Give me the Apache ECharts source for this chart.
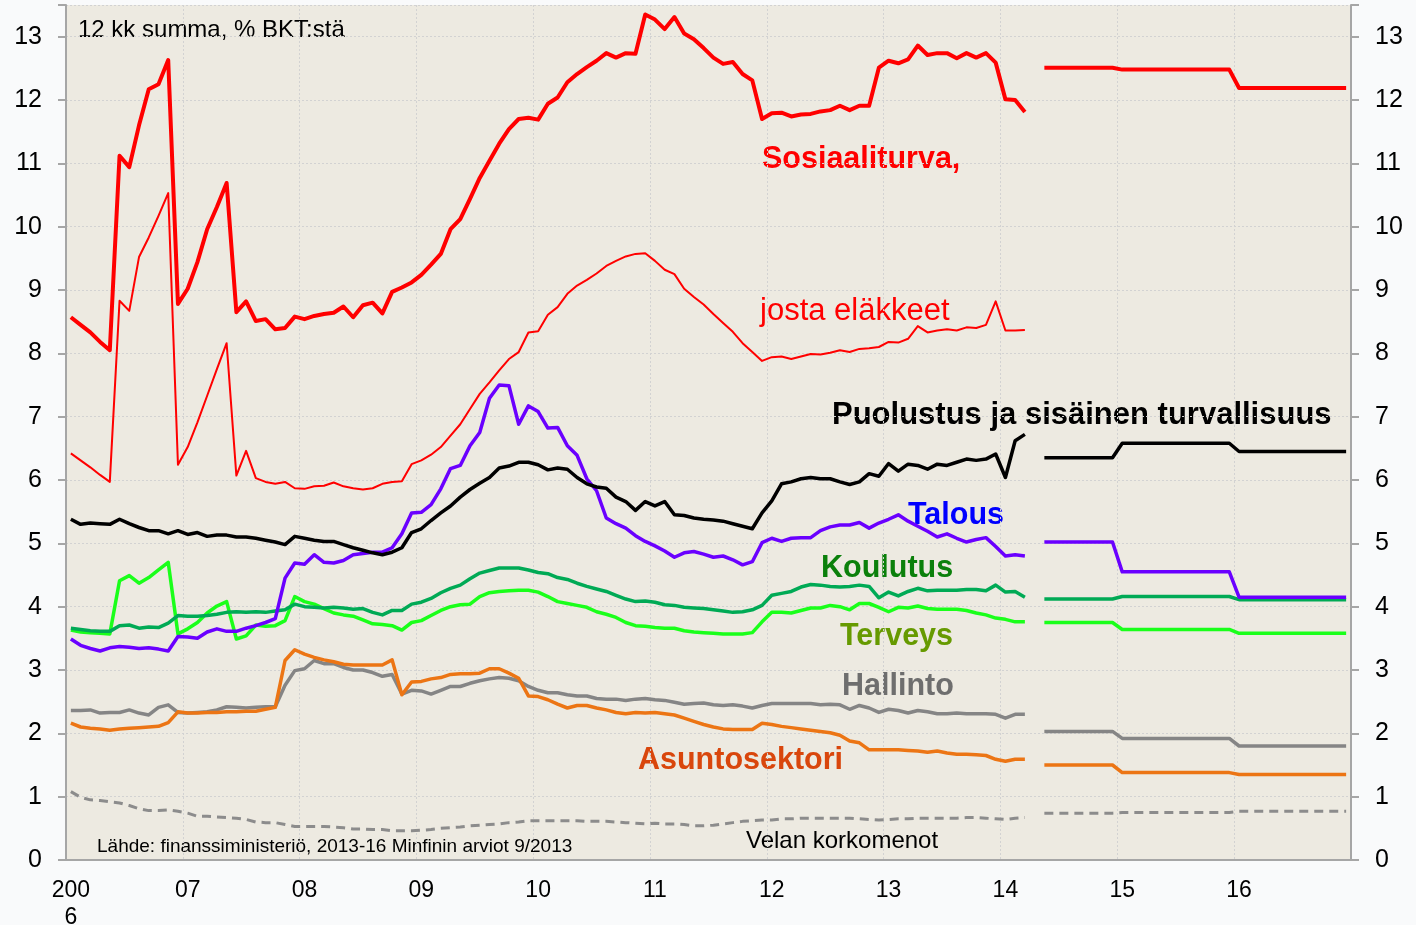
<!DOCTYPE html>
<html>
<head>
<meta charset="utf-8">
<script src="https://cdn.jsdelivr.net/npm/echarts@6/dist/echarts.min.js"></script>
<style>
html, body { margin: 0; padding: 0; background: #f9fafb; }
#chart { width: 1416px; height: 925px; }
</style>
</head>
<body>
<div id="chart"></div>
<script>
// kuukaudet 2006-01 ... 2016-12, vuosi-otsikot tammikuun kohdalle
var yearLabels = ['200\n6', '07', '08', '09', '10', '11', '12', '13', '14', '15', '16'];
var months = [];
for (var y = 2006; y <= 2016; y++) {
    for (var m = 1; m <= 12; m++) months.push(y + '-' + (m < 10 ? '0' + m : m));
}

// toteutuneet, 2006-01 ... 2014-03 (12 kk summa, % BKT:stä)
var sosiaaliturva = [
    8.57, 8.45, 8.33, 8.18, 8.05, 11.12, 10.94, 11.60, 12.17, 12.25,
    12.63, 8.78, 9.02, 9.44, 9.96, 10.31, 10.69, 8.65, 8.82, 8.51,
    8.54, 8.38, 8.40, 8.58, 8.54, 8.59, 8.62, 8.64, 8.74, 8.57,
    8.76, 8.80, 8.63, 8.97, 9.04, 9.12, 9.24, 9.40, 9.57, 9.96,
    10.12, 10.44, 10.77, 11.04, 11.31, 11.54, 11.70, 11.72, 11.69, 11.94,
    12.04, 12.28, 12.41, 12.52, 12.62, 12.74, 12.67, 12.74, 12.73, 13.35,
    13.27, 13.12, 13.31, 13.05, 12.96, 12.82, 12.67, 12.57, 12.60, 12.41,
    12.31, 11.70, 11.79, 11.80, 11.74, 11.77, 11.78, 11.82, 11.84, 11.91,
    11.84, 11.91, 11.91, 12.51, 12.62, 12.58, 12.64, 12.86, 12.71, 12.74,
    12.74, 12.66, 12.74, 12.67, 12.74, 12.59, 12.01, 12.00, 11.81
];
var elakkeet = [
    6.42, 6.31, 6.20, 6.08, 5.97, 8.83, 8.67, 9.52, 9.83, 10.17,
    10.53, 6.24, 6.52, 6.91, 7.33, 7.75, 8.16, 6.07, 6.46, 6.03,
    5.97, 5.94, 5.97, 5.87, 5.86, 5.90, 5.91, 5.96, 5.90, 5.87,
    5.85, 5.87, 5.94, 5.97, 5.98, 6.25, 6.31, 6.40, 6.52, 6.70,
    6.88, 7.12, 7.36, 7.54, 7.73, 7.91, 8.02, 8.33, 8.35, 8.61,
    8.73, 8.94, 9.07, 9.16, 9.26, 9.38, 9.46, 9.53, 9.57, 9.58,
    9.46, 9.32, 9.25, 9.02, 8.89, 8.77, 8.62, 8.48, 8.34, 8.16,
    8.02, 7.88, 7.94, 7.95, 7.91, 7.95, 7.99, 7.98, 8.01, 8.05,
    8.02, 8.07, 8.08, 8.10, 8.18, 8.17, 8.23, 8.43, 8.33, 8.36,
    8.38, 8.36, 8.41, 8.40, 8.45, 8.82, 8.36, 8.36, 8.37
];
var puolustus = [
    5.38, 5.30, 5.32, 5.31, 5.30, 5.38, 5.31, 5.25, 5.20, 5.20,
    5.15, 5.20, 5.14, 5.17, 5.11, 5.13, 5.13, 5.10, 5.10, 5.08,
    5.05, 5.02, 4.98, 5.11, 5.08, 5.05, 5.03, 5.03, 4.98, 4.93,
    4.89, 4.85, 4.82, 4.86, 4.93, 5.17, 5.23, 5.36, 5.48, 5.59,
    5.73, 5.85, 5.95, 6.04, 6.19, 6.22, 6.28, 6.28, 6.24, 6.16,
    6.19, 6.17, 6.04, 5.94, 5.89, 5.87, 5.73, 5.66, 5.52, 5.66,
    5.59, 5.66, 5.45, 5.44, 5.40, 5.38, 5.37, 5.35, 5.31, 5.27,
    5.23, 5.48, 5.67, 5.94, 5.97, 6.02, 6.04, 6.02, 6.02, 5.97,
    5.93, 5.97, 6.10, 6.06, 6.26, 6.14, 6.25, 6.23, 6.17, 6.25,
    6.23, 6.28, 6.33, 6.31, 6.33, 6.41, 6.04, 6.62, 6.72
];
var talous = [
    3.49, 3.39, 3.34, 3.30, 3.35, 3.37, 3.36, 3.34, 3.35, 3.33,
    3.30, 3.53, 3.52, 3.50, 3.60, 3.65, 3.61, 3.61, 3.66, 3.70,
    3.75, 3.81, 4.45, 4.69, 4.67, 4.82, 4.70, 4.69, 4.73, 4.82,
    4.84, 4.86, 4.86, 4.93, 5.15, 5.48, 5.49, 5.61, 5.86, 6.18,
    6.23, 6.54, 6.75, 7.29, 7.50, 7.49, 6.88, 7.17, 7.08, 6.82,
    6.83, 6.54, 6.39, 6.02, 5.83, 5.40, 5.31, 5.24, 5.12, 5.03,
    4.96, 4.88, 4.78, 4.85, 4.87, 4.83, 4.78, 4.80, 4.74, 4.66,
    4.71, 5.01, 5.08, 5.03, 5.08, 5.09, 5.09, 5.20, 5.26, 5.29,
    5.29, 5.33, 5.24, 5.32, 5.38, 5.45, 5.35, 5.27, 5.19, 5.10,
    5.15, 5.08, 5.02, 5.06, 5.09, 4.95, 4.80, 4.82, 4.80
];
var koulutus = [
    3.66, 3.64, 3.62, 3.61, 3.61, 3.70, 3.71, 3.66, 3.68, 3.67,
    3.74, 3.86, 3.85, 3.85, 3.86, 3.88, 3.91, 3.92, 3.91, 3.92,
    3.91, 3.93, 3.95, 4.04, 4.00, 3.99, 3.98, 3.99, 3.98, 3.96,
    3.97, 3.91, 3.87, 3.94, 3.94, 4.04, 4.07, 4.13, 4.22, 4.29,
    4.34, 4.44, 4.53, 4.57, 4.61, 4.61, 4.61, 4.58, 4.54, 4.52,
    4.46, 4.43, 4.37, 4.32, 4.28, 4.24, 4.18, 4.12, 4.08, 4.09,
    4.07, 4.03, 4.02, 3.99, 3.98, 3.97, 3.95, 3.93, 3.91, 3.92,
    3.95, 4.02, 4.18, 4.21, 4.24, 4.31, 4.35, 4.34, 4.32, 4.31,
    4.32, 4.34, 4.32, 4.14, 4.23, 4.17, 4.24, 4.29, 4.25, 4.26,
    4.26, 4.26, 4.27, 4.27, 4.25, 4.34, 4.23, 4.24, 4.15
];
var terveys = [
    3.63, 3.60, 3.59, 3.58, 3.57, 4.41, 4.49, 4.37, 4.46, 4.58,
    4.70, 3.57, 3.65, 3.75, 3.90, 4.01, 4.08, 3.49, 3.54, 3.71,
    3.69, 3.70, 3.78, 4.16, 4.08, 4.04, 3.97, 3.90, 3.87, 3.85,
    3.79, 3.73, 3.72, 3.70, 3.63, 3.75, 3.78, 3.86, 3.94, 4.00,
    4.03, 4.04, 4.16, 4.22, 4.24, 4.25, 4.26, 4.26, 4.23, 4.16,
    4.08, 4.05, 4.02, 3.99, 3.92, 3.88, 3.83, 3.75, 3.70, 3.69,
    3.67, 3.66, 3.66, 3.62, 3.60, 3.59, 3.58, 3.57, 3.57, 3.57,
    3.59, 3.76, 3.91, 3.91, 3.90, 3.94, 3.98, 3.98, 4.02, 4.00,
    3.95, 4.05, 4.05, 3.99, 3.92, 3.99, 3.98, 4.01, 3.97, 3.96,
    3.96, 3.96, 3.94, 3.90, 3.87, 3.82, 3.80, 3.76, 3.76
];
var hallinto = [
    2.36, 2.36, 2.37, 2.32, 2.33, 2.33, 2.37, 2.32, 2.29, 2.41,
    2.45, 2.33, 2.32, 2.33, 2.34, 2.37, 2.42, 2.41, 2.40, 2.41,
    2.42, 2.42, 2.76, 2.99, 3.02, 3.15, 3.10, 3.10, 3.04, 3.00,
    3.00, 2.96, 2.90, 2.93, 2.62, 2.68, 2.67, 2.62, 2.68, 2.74,
    2.74, 2.79, 2.83, 2.86, 2.88, 2.87, 2.83, 2.74, 2.68, 2.64,
    2.64, 2.61, 2.59, 2.59, 2.55, 2.54, 2.54, 2.52, 2.54, 2.55,
    2.53, 2.52, 2.49, 2.46, 2.47, 2.48, 2.45, 2.44, 2.45, 2.43,
    2.40, 2.44, 2.47, 2.47, 2.47, 2.47, 2.47, 2.45, 2.46, 2.45,
    2.38, 2.44, 2.40, 2.33, 2.38, 2.36, 2.32, 2.36, 2.34, 2.31,
    2.31, 2.32, 2.31, 2.31, 2.31, 2.30, 2.24, 2.30, 2.30
];
var asuntosektori = [
    2.16, 2.10, 2.08, 2.07, 2.05, 2.07, 2.08, 2.09, 2.10, 2.11,
    2.17, 2.34, 2.32, 2.32, 2.33, 2.33, 2.34, 2.34, 2.35, 2.35,
    2.38, 2.41, 3.15, 3.32, 3.25, 3.20, 3.16, 3.13, 3.09, 3.08,
    3.08, 3.08, 3.08, 3.16, 2.61, 2.81, 2.82, 2.86, 2.88, 2.93,
    2.94, 2.94, 2.95, 3.02, 3.02, 2.95, 2.87, 2.59, 2.58, 2.53,
    2.46, 2.40, 2.44, 2.44, 2.40, 2.37, 2.33, 2.31, 2.33, 2.32,
    2.33, 2.31, 2.29, 2.24, 2.19, 2.14, 2.10, 2.07, 2.06, 2.06,
    2.06, 2.16, 2.14, 2.11, 2.09, 2.07, 2.05, 2.03, 2.01, 1.97,
    1.88, 1.85, 1.74, 1.74, 1.74, 1.74, 1.73, 1.72, 1.70, 1.72,
    1.69, 1.67, 1.67, 1.66, 1.65, 1.59, 1.56, 1.59, 1.59
];
var velanKorot = [
    1.08, 0.99, 0.95, 0.94, 0.92, 0.90, 0.86, 0.81, 0.78, 0.78,
    0.79, 0.77, 0.74, 0.69, 0.69, 0.68, 0.67, 0.66, 0.64, 0.60,
    0.59, 0.59, 0.56, 0.53, 0.53, 0.53, 0.53, 0.52, 0.51, 0.49,
    0.49, 0.48, 0.48, 0.46, 0.46, 0.46, 0.47, 0.48, 0.50, 0.51,
    0.52, 0.54, 0.55, 0.56, 0.57, 0.59, 0.60, 0.62, 0.62, 0.62,
    0.62, 0.62, 0.62, 0.61, 0.61, 0.61, 0.60, 0.59, 0.58, 0.57,
    0.58, 0.57, 0.57, 0.56, 0.54, 0.54, 0.55, 0.57, 0.59, 0.61,
    0.62, 0.63, 0.63, 0.65, 0.65, 0.66, 0.66, 0.66, 0.66, 0.66,
    0.66, 0.65, 0.64, 0.63, 0.64, 0.65, 0.65, 0.66, 0.66, 0.66,
    0.66, 0.66, 0.67, 0.67, 0.66, 0.65, 0.64, 0.66, 0.67
];

// Minfinin arviot: 2014 (touko-joulu), 2015, 2016
var sosiaaliturvaArvio = [12.51, 12.48, 12.19];
var puolustusArvio = [6.35, 6.58, 6.45];
var talousArvio = [5.02, 4.55, 4.15];
var koulutusArvio = [4.12, 4.16, 4.11];
var terveysArvio = [3.75, 3.64, 3.58];
var hallintoArvio = [2.03, 1.92, 1.80];
var asuntosektoriArvio = [1.50, 1.38, 1.35];
var velanKorotArvio = [0.74, 0.75, 0.77];

// toteutuneet + tyhjä kuukausi + arviot kuukausittain
function withForecast(actual, forecast) {
    var out = actual.slice();
    out.push(null);
    var counts = [8, 12, 12];
    for (var k = 0; k < counts.length; k++) {
        for (var n = 0; n < counts[k]; n++) out.push(forecast ? forecast[k] : null);
    }
    return out;
}

function line(name, data, color, width, dash) {
    return {
        name: name,
        type: 'line',
        data: data,
        symbol: 'none',
        connectNulls: false,
        animation: false,
        silent: true,
        lineStyle: { color: color, width: width, type: dash || 'solid', cap: 'butt', join: 'round' },
        itemStyle: { color: color }
    };
}

// tekstit: x = vasen reuna, y = keskikohta
function note(x, y, text, font, color) {
    return {
        type: 'text', x: x, y: y, silent: true,
        style: { text: text, font: font, fill: color, textVerticalAlign: 'middle', verticalAlign: 'middle' }
    };
}

var FONT = '"Liberation Sans", Arial, sans-serif';
var BOLD = 'bold 30.5px ' + FONT;

var chartDom = document.getElementById('chart');
var myChart = echarts.init(chartDom, null, { renderer: 'canvas' });

var yAxisBase = {
    type: 'value',
    min: 0,
    max: 13.5,
    interval: 1,
    axisLine: { show: true, lineStyle: { color: '#a6a6a6', width: 2 } },
    axisTick: { show: true, length: 8, lineStyle: { color: '#a6a6a6', width: 2 } },
    axisLabel: {
        margin: 24, fontSize: 25, color: '#000', fontFamily: FONT, padding: [4, 0, 0, 0],
        formatter: function (v) { return Number.isInteger(v) ? String(v) : ''; }
    }
};

var option = {
    backgroundColor: '#f9fafb',
    animation: false,
    grid: {
        left: 66, right: 65, top: 5, bottom: 65,
        show: true, backgroundColor: '#edeae1', borderWidth: 0,
        outerBoundsMode: 'none'
    },
    xAxis: {
        type: 'category',
        data: months,
        boundaryGap: true,
        axisLine: { show: true, lineStyle: { color: '#a6a6a6', width: 2 } },
        axisTick: { show: false, interval: 11 },
        axisLabel: {
            interval: 11, margin: 17, fontSize: 23, lineHeight: 27, color: '#000', fontFamily: FONT,
            formatter: function (v, idx) { return yearLabels[Math.round(idx / 12)]; }
        },
        splitLine: { show: true, interval: 11, lineStyle: { color: '#d2d2d2', width: 1, type: [2, 2] } }
    },
    yAxis: [
        Object.assign({}, yAxisBase, {
            position: 'left',
            splitLine: { show: true, lineStyle: { color: '#d2d2d2', width: 1, type: [2, 2] } }
        }),
        Object.assign({}, yAxisBase, { position: 'right', splitLine: { show: false } })
    ],
    series: [
        line('Velan korkomenot', withForecast(velanKorot, velanKorotArvio), '#8c8c8c', 3, [9, 6]),
        line('Hallinto', withForecast(hallinto, hallintoArvio), '#858585', 3.5),
        line('Asuntosektori', withForecast(asuntosektori, asuntosektoriArvio), '#ec7514', 3.5),
        line('Terveys', withForecast(terveys, terveysArvio), '#1aff1a', 3.5),
        line('Koulutus', withForecast(koulutus, koulutusArvio), '#00aa55', 3.5),
        line('Talous', withForecast(talous, talousArvio), '#6a00ff', 3.5),
        line('Puolustus ja sisäinen turvallisuus', withForecast(puolustus, puolustusArvio), '#000000', 3.5),
        line('josta eläkkeet', withForecast(elakkeet, null), '#ff0000', 2),
        line('Sosiaaliturva', withForecast(sosiaaliturva, sosiaaliturvaArvio), '#ff0000', 4)
    ],
    graphic: [
        note(78, 30, '12 kk summa, % BKT:stä', '24px ' + FONT, '#000'),
        note(762, 160, 'Sosiaaliturva,', BOLD, '#ff0000'),
        note(760, 311, 'josta eläkkeet', '31px ' + FONT, '#ff0000'),
        note(832, 415, 'Puolustus ja sisäinen turvallisuus', 'bold 31px ' + FONT, '#000'),
        note(908, 516, 'Talous', BOLD, '#0000ff'),
        note(821, 569, 'Koulutus', BOLD, '#0b800b'),
        note(840, 637, 'Terveys', BOLD, '#669a00'),
        note(842, 687, 'Hallinto', BOLD, '#6e6e6e'),
        note(638, 761, 'Asuntosektori', BOLD, '#d9460c'),
        note(746, 841, 'Velan korkomenot', '24px ' + FONT, '#000'),
        note(97, 847, 'Lähde: finanssiministeriö, 2013-16 Minfinin arviot 9/2013', '19px ' + FONT, '#000')
    ]
};

myChart.setOption(option);
</script>
</body>
</html>
